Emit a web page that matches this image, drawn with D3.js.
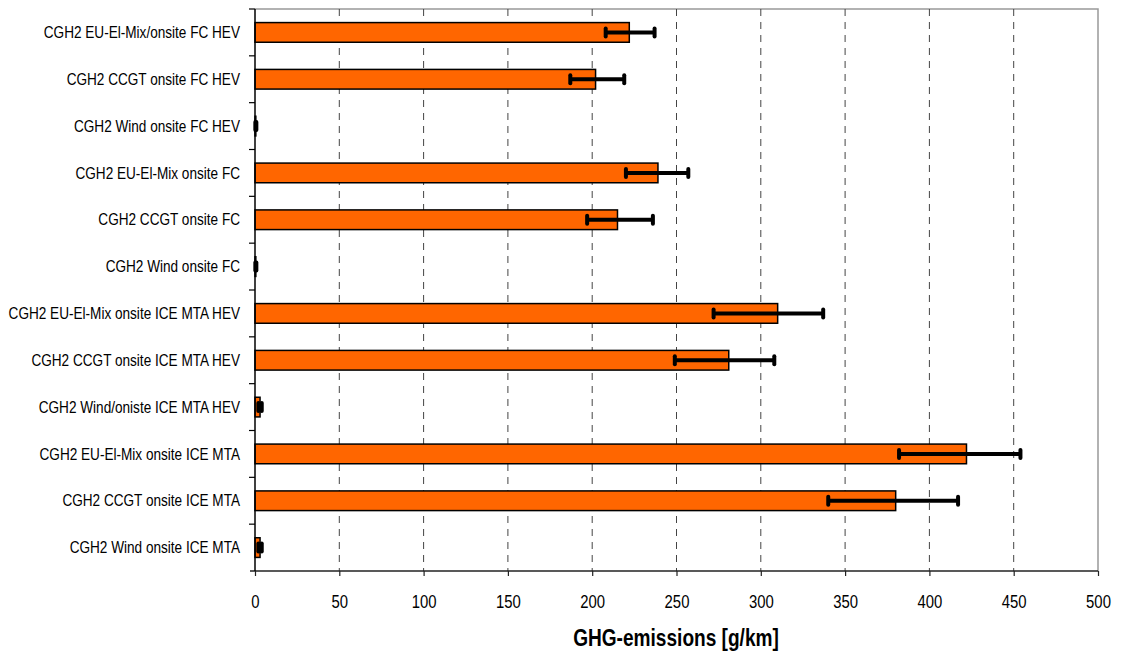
<!DOCTYPE html>
<html><head><meta charset="utf-8">
<script src="https://cdn.jsdelivr.net/npm/d3@7"></script>
<style>body{margin:0;background:#fff}svg{display:block}text{font-family:"Liberation Sans",Arial,sans-serif}</style>
</head><body><svg id="c" width="1122" height="655"></svg>
<script>
const categories = [
 "CGH2 EU-El-Mix/onsite FC HEV","CGH2 CCGT onsite FC HEV","CGH2 Wind onsite FC HEV",
 "CGH2 EU-El-Mix onsite FC","CGH2 CCGT onsite FC","CGH2 Wind onsite FC",
 "CGH2 EU-El-Mix onsite ICE MTA HEV","CGH2 CCGT onsite ICE MTA HEV","CGH2 Wind/oniste ICE MTA HEV",
 "CGH2 EU-El-Mix onsite ICE MTA","CGH2 CCGT onsite ICE MTA","CGH2 Wind onsite ICE MTA"];
const values = [222, 202, 0.5, 239, 215, 0.5, 310, 281, 3, 422, 380, 3];
const errLow = [208, 187, 0.2, 220, 197, 0.2, 272, 249, 2, 382, 340, 2];
const errHigh = [237, 219, 0.8, 257, 236, 0.8, 337, 308, 4, 454, 417, 4];
const xTicks = [0,50,100,150,200,250,300,350,400,450,500];
const xTitle = "GHG-emissions [g/km]";

const FONT = "Liberation Sans, Arial, sans-serif";
const SX = 0.85;
const svg = d3.select("#c");
const L=255, R=1098, T=9, B=571;
const x = d3.scaleLinear().domain([0,500]).range([L,R]);
const y = d3.scaleBand().domain(categories).range([T,B]).paddingInner(0.58).paddingOuter(0.29);
const yb = d3.scaleBand().domain(categories).range([T,B]);

svg.append("path").attr("d",`M${L},${T}H${R}V${B}`).attr("fill","none").attr("stroke","#999").attr("stroke-width",1.5);
svg.append("g").selectAll("line").data(xTicks.filter(d=>d>0&&d<500)).join("line")
 .attr("x1",d=>x(d)).attr("x2",d=>x(d)).attr("y1",T).attr("y2",B)
 .attr("stroke","#444").attr("stroke-width",1).attr("stroke-dasharray","7,6");

svg.append("g").selectAll("rect").data(categories).join("rect")
 .attr("x",x(0)).attr("y",d=>y(d)).attr("height",y.bandwidth())
 .attr("width",(d,i)=>x(values[i])-x(0))
 .attr("fill","#FF6600").attr("stroke","#000").attr("stroke-width",1.5);

const eg = svg.append("g");
categories.forEach((c,i)=>{
  const cy = y(c)+y.bandwidth()/2;
  eg.append("line").attr("x1",x(errLow[i])).attr("x2",x(errHigh[i])).attr("y1",cy).attr("y2",cy)
    .attr("stroke","#000").attr("stroke-width",4);
  [errLow[i],errHigh[i]].forEach(v=>{
    eg.append("line").attr("x1",x(v)).attr("x2",x(v)).attr("y1",cy-4).attr("y2",cy+4)
      .attr("stroke","#000").attr("stroke-width",4).attr("stroke-linecap","round");
  });
});

const xa = svg.append("g").attr("transform",`translate(0,${B})`)
 .call(d3.axisBottom(x).tickValues(xTicks).tickSize(5));
xa.select(".domain").attr("stroke","#222").attr("stroke-width",1.5).attr("d",`M${L-5},0H${R}`);
xa.selectAll(".tick line").attr("stroke","#222").attr("stroke-width",1.2);
xa.selectAll("text").attr("font-size",17.5).attr("fill","#000").attr("font-family",FONT)
  .attr("dy",null).attr("y",0).attr("transform",`translate(0,37) scale(${SX},1)`);

const ya = svg.append("g").attr("transform",`translate(${L},0)`).call(d3.axisLeft(yb).tickSize(0));
ya.select(".domain").attr("stroke","#000").attr("stroke-width",1.5).attr("d",`M0,${T}V${B}`);
ya.selectAll("text").attr("font-size",16).attr("fill","#000").attr("font-family",FONT)
  .attr("x",0).attr("dy","0.35em").attr("transform",`translate(-15,0) scale(${SX},1)`);
svg.append("g").selectAll("line").data(categories).join("line")
 .attr("x1",L-6).attr("x2",L).attr("y1",d=>yb(d)).attr("y2",d=>yb(d)).attr("stroke","#000").attr("stroke-width",1.2);

svg.append("text").attr("text-anchor","middle").attr("font-family",FONT)
 .attr("transform",`translate(676,646) scale(0.83,1)`)
 .attr("font-size",23).attr("font-weight","bold").text(xTitle);
</script></body></html>
